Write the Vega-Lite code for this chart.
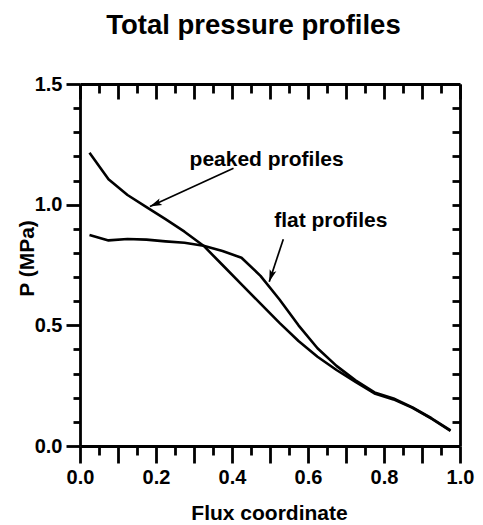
{
  "$schema": "https://vega.github.io/schema/vega-lite/v6.json",
  "width": 380,
  "height": 362,
  "autosize": "none",
  "padding": {"left": 80, "top": 84, "right": 23, "bottom": 79},
  "background": "white",
  "title": {
    "text": "Total pressure profiles",
    "font": "Liberation Sans",
    "fontSize": 27.5,
    "fontWeight": "bold",
    "color": "black",
    "anchor": "middle",
    "dx": -16.5,
    "offset": 35
  },
  "config": {
    "view": {"stroke": null},
    "axis": {
      "grid": false,
      "domainColor": "black",
      "domainWidth": 2.8,
      "tickColor": "black",
      "tickWidth": 2.8,
      "labelColor": "black",
      "labelFont": "Liberation Sans",
      "labelFontWeight": "bold",
      "labelFontSize": 20,
      "labelOverlap": false,
      "labelFlush": false,
      "titleColor": "black",
      "titleFont": "Liberation Sans",
      "titleFontWeight": "bold",
      "titleFontSize": 21
    }
  },
  "datasets": {
    "profiles": [
      {"profile": "peaked", "flux": 0.025, "p": 1.215},
      {"profile": "peaked", "flux": 0.075, "p": 1.105},
      {"profile": "peaked", "flux": 0.125, "p": 1.04},
      {"profile": "peaked", "flux": 0.175, "p": 0.99},
      {"profile": "peaked", "flux": 0.225, "p": 0.94},
      {"profile": "peaked", "flux": 0.275, "p": 0.888},
      {"profile": "peaked", "flux": 0.325, "p": 0.83},
      {"profile": "peaked", "flux": 0.375, "p": 0.75},
      {"profile": "peaked", "flux": 0.425, "p": 0.67},
      {"profile": "peaked", "flux": 0.475, "p": 0.59},
      {"profile": "peaked", "flux": 0.525, "p": 0.51},
      {"profile": "peaked", "flux": 0.575, "p": 0.435},
      {"profile": "peaked", "flux": 0.625, "p": 0.37},
      {"profile": "peaked", "flux": 0.675, "p": 0.315},
      {"profile": "peaked", "flux": 0.725, "p": 0.266},
      {"profile": "peaked", "flux": 0.775, "p": 0.218},
      {"profile": "peaked", "flux": 0.825, "p": 0.193},
      {"profile": "peaked", "flux": 0.875, "p": 0.158},
      {"profile": "peaked", "flux": 0.925, "p": 0.113},
      {"profile": "peaked", "flux": 0.975, "p": 0.063},
      {"profile": "flat", "flux": 0.025, "p": 0.874},
      {"profile": "flat", "flux": 0.075, "p": 0.852},
      {"profile": "flat", "flux": 0.125, "p": 0.858},
      {"profile": "flat", "flux": 0.175, "p": 0.855},
      {"profile": "flat", "flux": 0.225, "p": 0.848},
      {"profile": "flat", "flux": 0.275, "p": 0.842},
      {"profile": "flat", "flux": 0.325, "p": 0.83},
      {"profile": "flat", "flux": 0.375, "p": 0.808},
      {"profile": "flat", "flux": 0.425, "p": 0.78},
      {"profile": "flat", "flux": 0.475, "p": 0.705},
      {"profile": "flat", "flux": 0.525, "p": 0.607},
      {"profile": "flat", "flux": 0.575, "p": 0.5},
      {"profile": "flat", "flux": 0.625, "p": 0.405},
      {"profile": "flat", "flux": 0.675, "p": 0.332},
      {"profile": "flat", "flux": 0.725, "p": 0.272},
      {"profile": "flat", "flux": 0.775, "p": 0.222},
      {"profile": "flat", "flux": 0.825, "p": 0.197},
      {"profile": "flat", "flux": 0.875, "p": 0.16},
      {"profile": "flat", "flux": 0.925, "p": 0.115},
      {"profile": "flat", "flux": 0.975, "p": 0.065}
    ],
    "arrows": [
      {"name": "peaked", "flux": 0.404, "p": 1.151, "flux_tip": 0.184, "p_tip": 0.992},
      {"name": "flat", "flux": 0.535, "p": 0.857, "flux_tip": 0.498, "p_tip": 0.681}
    ],
    "labels": [
      {"text": "peaked profiles", "flux": 0.491, "p": 1.16},
      {"text": "flat profiles", "flux": 0.66, "p": 0.909}
    ]
  },
  "layer": [
    {
      "data": {"name": "profiles"},
      "mark": {"type": "line", "color": "black", "strokeWidth": 2.6, "strokeJoin": "round"},
      "encoding": {
        "x": {
          "field": "flux",
          "type": "quantitative",
          "scale": {"domain": [0, 1], "nice": false, "zero": false},
          "axis": {
            "orient": "bottom",
            "values": [0, 0.1, 0.2, 0.3, 0.4, 0.5, 0.6, 0.7, 0.8, 0.9, 1],
            "tickSize": 17,
            "labelExpr": "round(datum.value * 10) % 2 == 0 ? format(datum.value, '.1f') : ''",
            "labelPadding": 20,
            "labelBaseline": "alphabetic",
            "title": "Flux coordinate",
            "titleX": 189,
            "titleY": 73,
            "titleAlign": "center",
            "titleBaseline": "alphabetic"
          }
        },
        "y": {
          "field": "p",
          "type": "quantitative",
          "scale": {"domain": [0, 1.5], "nice": false, "zero": false},
          "axis": {
            "orient": "left",
            "values": [0, 0.5, 1, 1.5],
            "format": ".1f",
            "tickSize": 14,
            "labelPadding": 4,
            "title": "P (MPa)",
            "titleAngle": -90,
            "titleX": -47,
            "titleY": 174,
            "titleAlign": "center",
            "titleBaseline": "alphabetic"
          }
        },
        "detail": {"field": "profile"}
      }
    },
    {
      "data": {"name": "arrows"},
      "mark": {"type": "rule", "color": "black", "strokeWidth": 1.7},
      "encoding": {
        "x": {
          "field": "flux",
          "type": "quantitative",
          "scale": {"domain": [0, 1], "nice": false, "zero": false},
          "axis": {
            "orient": "bottom",
            "values": [0.05, 0.15, 0.25, 0.35, 0.45, 0.55, 0.65, 0.75, 0.85, 0.95],
            "tickSize": 9,
            "labels": false,
            "domain": false,
            "title": null
          }
        },
        "x2": {"field": "flux_tip"},
        "y": {
          "field": "p",
          "type": "quantitative",
          "scale": {"domain": [0, 1.5], "nice": false, "zero": false},
          "axis": {
            "orient": "left",
            "values": [0.1, 0.2, 0.3, 0.4, 0.6, 0.7, 0.8, 0.9, 1.1, 1.2, 1.3, 1.4],
            "tickSize": 7,
            "labels": false,
            "domain": false,
            "title": null
          }
        },
        "y2": {"field": "p_tip"}
      }
    },
    {
      "data": {"name": "labels"},
      "mark": {
        "type": "text",
        "font": "Liberation Sans",
        "fontWeight": "bold",
        "fontSize": 21,
        "color": "black",
        "align": "center",
        "baseline": "alphabetic"
      },
      "encoding": {
        "x": {
          "field": "flux",
          "type": "quantitative",
          "scale": {"domain": [0, 1], "nice": false, "zero": false},
          "axis": {
            "orient": "top",
            "values": [0, 0.1, 0.2, 0.3, 0.4, 0.5, 0.6, 0.7, 0.8, 0.9, 1],
            "tickSize": -15,
            "labels": false,
            "title": null
          }
        },
        "y": {
          "field": "p",
          "type": "quantitative",
          "scale": {"domain": [0, 1.5], "nice": false, "zero": false},
          "axis": {
            "orient": "right",
            "values": [0.1, 0.2, 0.3, 0.4, 0.5, 0.6, 0.7, 0.8, 0.9, 1, 1.1, 1.2, 1.3, 1.4],
            "tickSize": -8,
            "labels": false,
            "title": null
          }
        },
        "text": {"field": "text"}
      }
    },
    {
      "data": {"name": "arrows"},
      "transform": [{"filter": "datum.name == 'peaked'"}],
      "mark": {
        "type": "point",
        "shape": "M0,0L-0.7,2.4L0,1.9L0.7,2.4Z",
        "filled": true,
        "color": "black",
        "opacity": 1,
        "size": 100,
        "angle": 246.2
      },
      "encoding": {
        "x": {
          "field": "flux_tip",
          "type": "quantitative",
          "scale": {"domain": [0, 1], "nice": false, "zero": false},
          "axis": {
            "orient": "top",
            "values": [0.05, 0.15, 0.25, 0.35, 0.45, 0.55, 0.65, 0.75, 0.85, 0.95],
            "tickSize": -9,
            "labels": false,
            "domain": false,
            "title": null
          }
        },
        "y": {
          "field": "p_tip",
          "type": "quantitative",
          "scale": {"domain": [0, 1.5], "nice": false, "zero": false},
          "axis": null
        }
      }
    },
    {
      "data": {"name": "arrows"},
      "transform": [{"filter": "datum.name == 'flat'"}],
      "mark": {
        "type": "point",
        "shape": "M0,0L-0.7,2.4L0,1.9L0.7,2.4Z",
        "filled": true,
        "color": "black",
        "opacity": 1,
        "size": 100,
        "angle": 198.3
      },
      "encoding": {
        "x": {
          "field": "flux_tip",
          "type": "quantitative",
          "scale": {"domain": [0, 1], "nice": false, "zero": false},
          "axis": null
        },
        "y": {
          "field": "p_tip",
          "type": "quantitative",
          "scale": {"domain": [0, 1.5], "nice": false, "zero": false},
          "axis": null
        }
      }
    }
  ],
  "resolve": {"axis": {"x": "independent", "y": "independent"}}
}
